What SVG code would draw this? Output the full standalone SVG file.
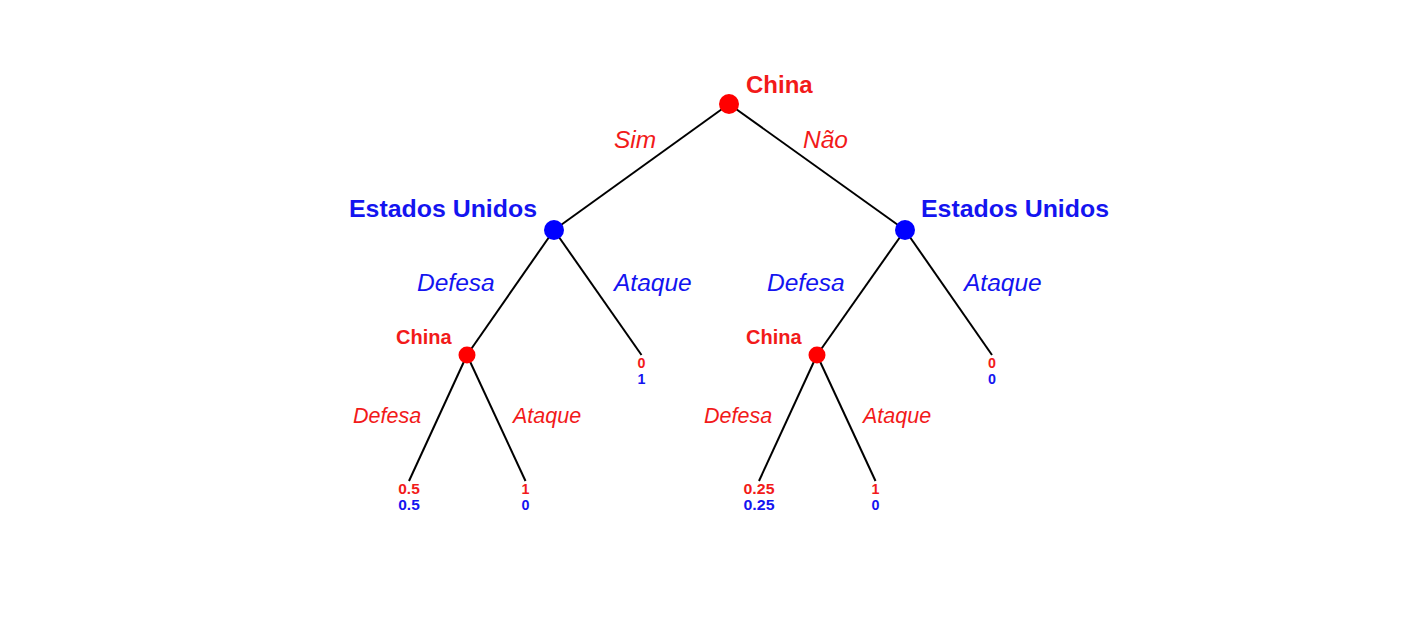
<svg xmlns="http://www.w3.org/2000/svg" width="1401" height="627" viewBox="0 0 1401 627">
<style>
text{font-family:"Liberation Sans",Arial,sans-serif}
.edge{stroke:#000;stroke-width:2;fill:none}
.r{fill:#f21a1a}
.b{fill:#1414f0}
.bold{font-weight:bold}
.it{font-style:italic}
.big{font-size:24px}
.mid{font-size:24.5px}
.sm{font-size:21.5px}
.cn{font-size:20px}
.pay{font-size:14.3px;font-weight:bold;text-anchor:middle}
.nr{fill:#ff0000}
.nb{fill:#0000ff}
</style>
<rect width="1401" height="627" fill="#fff"/>
<g id="connectors">
<line class="edge" x1="729" y1="104" x2="554" y2="230"/>
<line class="edge" x1="729" y1="104" x2="905" y2="230"/>
<line class="edge" x1="554" y1="230" x2="467" y2="355"/>
<line class="edge" x1="554" y1="230" x2="641.5" y2="355"/>
<line class="edge" x1="905" y1="230" x2="817" y2="355"/>
<line class="edge" x1="905" y1="230" x2="992" y2="355"/>
<line class="edge" x1="467" y1="355" x2="409" y2="481"/>
<line class="edge" x1="467" y1="355" x2="525.5" y2="481"/>
<line class="edge" x1="817" y1="355" x2="759" y2="481"/>
<line class="edge" x1="817" y1="355" x2="875.5" y2="481"/>
</g>
<g id="edge-labels">
<text class="r it mid" x="614" y="148">Sim</text>
<text class="r it mid" x="803" y="148">Não</text>
<text class="b it mid" x="417" y="291">Defesa</text>
<text class="b it mid" x="614" y="291">Ataque</text>
<text class="b it mid" x="767" y="291">Defesa</text>
<text class="b it mid" x="964" y="291">Ataque</text>
<text class="r it sm" x="353" y="423">Defesa</text>
<text class="r it sm" x="513" y="423">Ataque</text>
<text class="r it sm" x="704" y="423">Defesa</text>
<text class="r it sm" x="863" y="423">Ataque</text>
</g>
<g id="root">
<circle class="nr" cx="729" cy="104" r="10"/>
<text class="r bold big" x="746" y="93">China</text>
</g>
<g id="us-left">
<circle class="nb" cx="554" cy="230" r="10"/>
<text class="b bold big" x="349" y="217" textLength="188" lengthAdjust="spacingAndGlyphs">Estados Unidos</text>
</g>
<g id="us-right">
<circle class="nb" cx="905" cy="230" r="10"/>
<text class="b bold big" x="921" y="217" textLength="188" lengthAdjust="spacingAndGlyphs">Estados Unidos</text>
</g>
<g id="china-left">
<circle class="nr" cx="467" cy="355" r="8.5"/>
<text class="r bold cn" x="396" y="344">China</text>
</g>
<g id="china-right">
<circle class="nr" cx="817" cy="355" r="8.5"/>
<text class="r bold cn" x="746" y="344">China</text>
</g>
<g id="leaf-ll">
<text class="r pay" x="409" y="494" textLength="21.5" lengthAdjust="spacingAndGlyphs">0.5</text>
<text class="b pay" x="409" y="510" textLength="21.5" lengthAdjust="spacingAndGlyphs">0.5</text>
</g>
<g id="leaf-lr">
<text class="r pay" x="525.5" y="494">1</text>
<text class="b pay" x="525.5" y="510">0</text>
</g>
<g id="leaf-la">
<text class="r pay" x="641.5" y="368">0</text>
<text class="b pay" x="641.5" y="384">1</text>
</g>
<g id="leaf-rl">
<text class="r pay" x="759" y="494" textLength="31" lengthAdjust="spacingAndGlyphs">0.25</text>
<text class="b pay" x="759" y="510" textLength="31" lengthAdjust="spacingAndGlyphs">0.25</text>
</g>
<g id="leaf-rr">
<text class="r pay" x="875.5" y="494">1</text>
<text class="b pay" x="875.5" y="510">0</text>
</g>
<g id="leaf-ra">
<text class="r pay" x="992" y="368">0</text>
<text class="b pay" x="992" y="384">0</text>
</g>
</svg>
